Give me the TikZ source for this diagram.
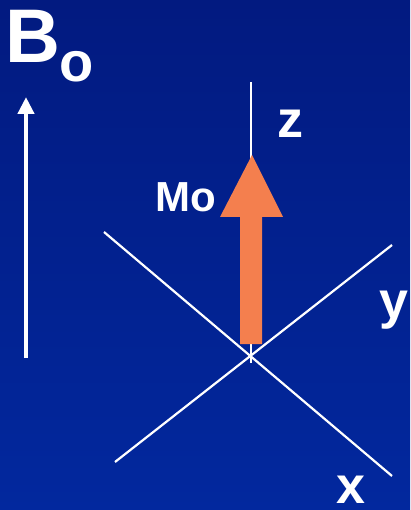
\documentclass[tikz,border=0pt]{standalone}
\usepackage{fontspec}
\setmainfont{Liberation Sans}
\usetikzlibrary{arrows.meta}
\definecolor{bgtop}{RGB}{2,26,128}
\definecolor{bgbot}{RGB}{2,40,158}
\definecolor{mcol}{RGB}{244,127,78}
\tikzset{
  lbl/.style={text=white,font=\bfseries,inner sep=0pt,anchor=base west},
  axis/.style={draw=white,line width=2.2pt},
}
\begin{document}
\begin{tikzpicture}[x=1pt,y=-1pt]
\shade[top color=bgtop,bottom color=bgbot] (0,0) rectangle (410,510);
\useasboundingbox (0,0) rectangle (410,510);
% labels
\node[lbl,font=\bfseries\fontsize{76}{76}\selectfont] (B) at (5,63) {B};
\node[lbl,font=\bfseries\fontsize{56}{56}\selectfont] (o) at (59,82) {o};
\node[lbl,font=\bfseries\fontsize{42}{42}\selectfont] (Mo) at (155,212) {Mo};
\node[lbl,font=\bfseries\fontsize{52}{52}\selectfont] (z) at (277,138) {z};
\node[lbl,font=\bfseries\fontsize{52}{52}\selectfont] (y) at (379,318) {y};
\node[lbl,font=\bfseries\fontsize{52}{52}\selectfont] (x) at (336,503) {x};
% B0 arrow
\coordinate (b0) at (26,358);
\coordinate (b1) at (26,97);
\draw[white,line width=4.5pt,-{Triangle[width=16pt,length=17pt]}] (b0) -- (b1);
% axes
\coordinate (ztop) at (251,82);
\coordinate (zbot) at (251,363);
\coordinate (x1) at (104,232);
\coordinate (x2) at (392,476);
\coordinate (y1) at (115,462);
\coordinate (y2) at (392,245);
\draw[axis] (ztop) -- (zbot);
\draw[axis] (x1) -- (x2);
\draw[axis] (y1) -- (y2);
% Mo arrow
\fill[mcol] (240,344) -- (240,217) -- (220,217) -- (252,155) -- (283,217) -- (262,217) -- (262,344) -- cycle;
\end{tikzpicture}
\end{document}
